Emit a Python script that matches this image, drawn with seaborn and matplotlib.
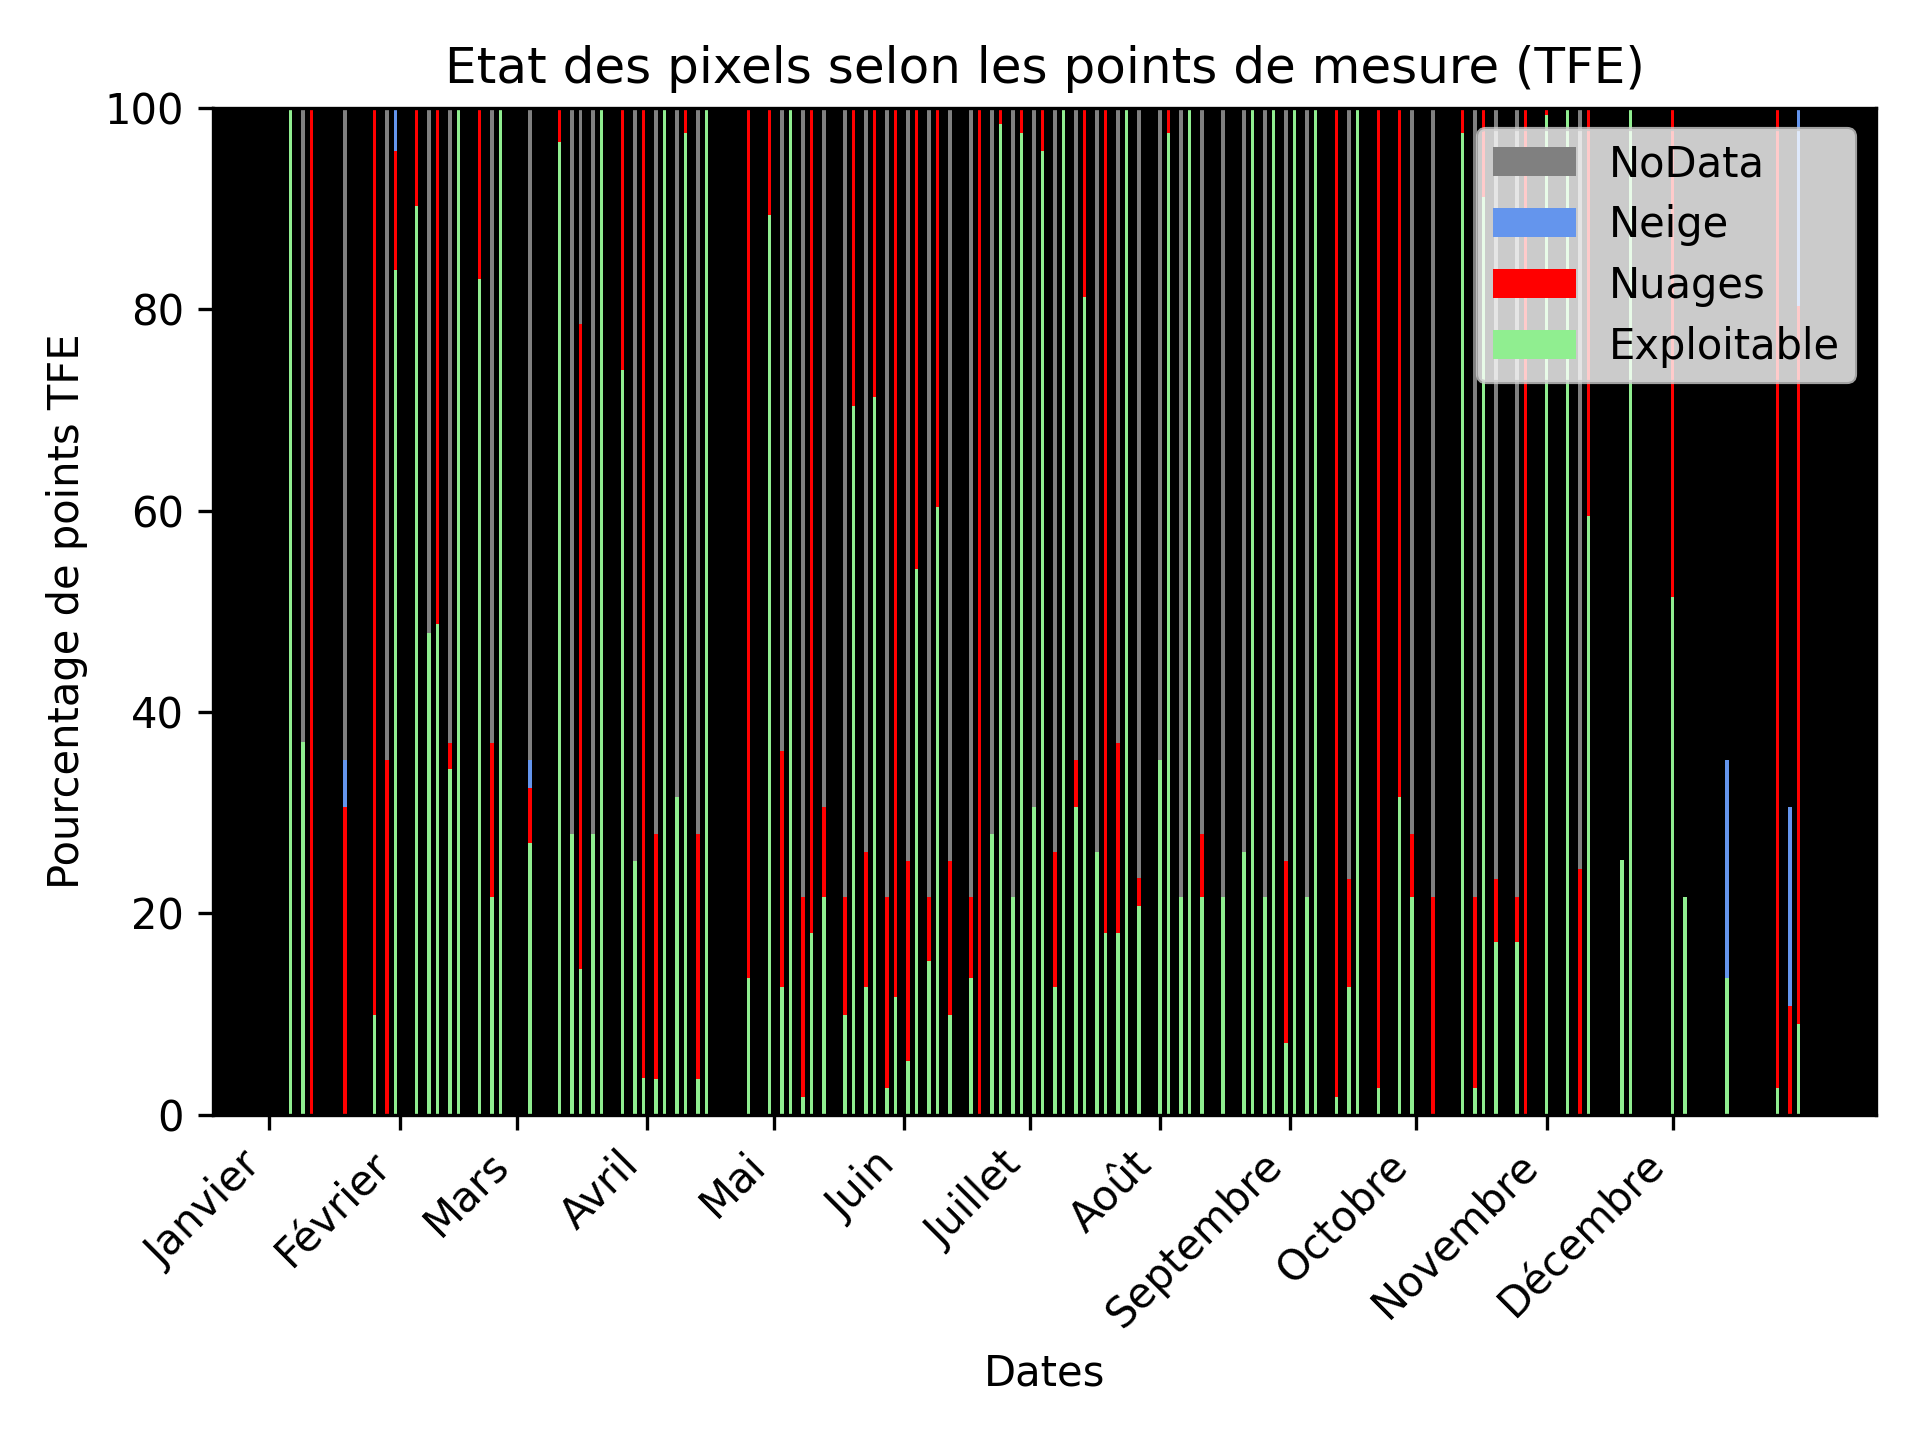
import matplotlib
matplotlib.use("Agg")
import matplotlib.pyplot as plt
from matplotlib.patches import Patch
import seaborn as sns
import pandas as pd

# Day of year (0 = 1er janvier) of each acquisition
days = [5, 8, 10, 18, 25, 28, 30, 35, 38, 40, 43, 45, 50, 53, 55, 62, 69, 72, 74, 77,
        79, 84, 87, 89, 92, 94, 97, 99, 102, 104, 114, 119, 122, 124, 127, 129, 132, 137, 139, 142,
        144, 147, 149, 152, 154, 157, 159, 162, 167, 169, 172, 174, 177, 179, 182, 184, 187, 189, 192, 194,
        197, 199, 202, 204, 207, 212, 214, 217, 219, 222, 227, 232, 234, 237, 239, 242, 244, 247, 249, 254,
        257, 259, 264, 269, 272, 277, 284, 287, 289, 292, 297, 299, 304, 309, 312, 314, 322, 324, 334, 337,
        347, 359, 362, 364]

exploitable = [100, 37.0, 0, 0, 9.9, 0, 83.9, 90.3, 47.8, 48.7, 34.3, 100, 83.0, 21.6, 100, 27.0, 96.6, 27.9, 14.5, 27.9,
               100, 74.0, 25.2, 3.6, 3.5, 100, 31.5, 97.5, 3.5, 100, 13.6, 89.4, 12.7, 100, 1.7, 18.0, 21.6, 9.9, 70.4, 12.7,
               71.3, 2.6, 11.7, 5.3, 54.2, 15.3, 60.4, 9.9, 13.6, 0, 27.9, 98.4, 21.6, 97.5, 30.6, 95.7, 12.7, 100, 30.6, 81.2,
               26.1, 18.0, 18.0, 100, 20.7, 35.2, 97.5, 21.6, 100, 21.6, 21.6, 26.1, 100, 21.6, 100, 7.1, 100, 21.6, 100, 1.7,
               12.7, 100, 2.6, 31.5, 21.6, 0, 97.5, 2.6, 91.2, 17.1, 17.1, 0, 99.3, 100, 0, 59.5, 25.3, 100, 51.4, 21.6,
               13.6, 2.6, 0, 9.0]

nuages = [0, 0, 100, 30.6, 90.1, 35.2, 11.8, 9.7, 0, 51.3, 2.6, 0, 17.0, 15.3, 0, 5.4, 3.4, 0, 64.0, 0,
          0, 26.0, 0, 96.4, 24.4, 0, 0, 2.5, 24.4, 0, 86.4, 10.6, 23.4, 0, 19.9, 82.0, 9.0, 11.7, 29.6, 13.4,
          28.7, 19.0, 88.3, 19.9, 45.8, 6.3, 39.6, 15.3, 8.0, 100, 0, 1.6, 0, 2.5, 0, 4.3, 13.4, 0, 4.6, 18.8,
          0, 82.0, 18.9, 0, 2.8, 0, 2.5, 0, 0, 6.3, 0, 0, 0, 0, 0, 18.1, 0, 0, 0, 98.3,
          10.7, 0, 97.4, 68.5, 6.3, 21.6, 2.5, 19.0, 8.8, 6.3, 4.5, 100, 0.7, 0, 24.4, 40.5, 0, 0, 48.6, 0,
          0, 97.4, 10.8, 71.3]

neige = [0, 0, 0, 4.6, 0, 0, 4.3, 0, 0, 0, 0, 0, 0, 0, 0, 2.8, 0, 0, 0, 0,
         0, 0, 0, 0, 0, 0, 0, 0, 0, 0, 0, 0, 0, 0, 0, 0, 0, 0, 0, 0,
         0, 0, 0, 0, 0, 0, 0, 0, 0, 0, 0, 0, 0, 0, 0, 0, 0, 0, 0, 0,
         0, 0, 0, 0, 0, 0, 0, 0, 0, 0, 0, 0, 0, 0, 0, 0, 0, 0, 0, 0,
         0, 0, 0, 0, 0, 0, 0, 0, 0, 0, 0, 0, 0, 0, 0, 0, 0, 0, 0, 0,
         21.6, 0, 19.8, 19.7]

nodata = [0, 63.0, 0, 64.8, 0, 64.8, 0, 0, 52.2, 0, 63.1, 0, 0, 63.1, 0, 64.8, 0, 72.1, 21.5, 72.1,
          0, 0, 74.8, 0, 72.1, 0, 68.5, 0, 72.1, 0, 0, 0, 63.9, 0, 78.4, 0, 69.4, 78.4, 0, 73.9,
          0, 78.4, 0, 74.8, 0, 78.4, 0, 74.8, 78.4, 0, 72.1, 0, 78.4, 0, 69.4, 0, 73.9, 0, 64.8, 0,
          73.9, 0, 63.1, 0, 76.5, 64.8, 0, 78.4, 0, 72.1, 78.4, 73.9, 0, 78.4, 0, 74.8, 0, 78.4, 0, 0,
          76.6, 0, 0, 0, 72.1, 78.4, 0, 78.4, 0, 76.6, 78.4, 0, 0, 0, 75.6, 0, 0, 0, 0, 0,
          0, 0, 0, 0]

months = ["Janvier", "Février", "Mars", "Avril", "Mai", "Juin", "Juillet", "Août",
          "Septembre", "Octobre", "Novembre", "Décembre"]
month_starts = [0, 31, 59, 90, 120, 151, 181, 212, 243, 273, 304, 334]

df = pd.DataFrame({"day": days, "Exploitable": exploitable, "Nuages": nuages,
                   "Neige": neige, "NoData": nodata})
df["c_expl"] = df["Exploitable"]
df["c_nuag"] = df["c_expl"] + df["Nuages"]
df["c_neig"] = df["c_nuag"] + df["Neige"]
df["c_nod"] = df["c_neig"] + df["NoData"]

layers = [("c_nod", "NoData", "gray"),
          ("c_neig", "Neige", "cornflowerblue"),
          ("c_nuag", "Nuages", "red"),
          ("c_expl", "Exploitable", "lightgreen")]

fig, ax = plt.subplots(figsize=(6.4, 4.8), dpi=300)
ax.set_facecolor("black")

for col, name, color in layers:
    sns.barplot(data=df, x="day", y=col, native_scale=True, width=0.4,
                color=color, saturation=1, errorbar=None, linewidth=0, ax=ax)

span = max(days) - min(days) + 0.8
ax.set_xlim(min(days) - 0.4 - 0.05 * span, max(days) + 0.4 + 0.05 * span)
ax.set_ylim(0, 100)
ax.set_yticks([0, 20, 40, 60, 80, 100])
ax.set_xticks(month_starts)
ax.set_xticklabels(months, rotation=45, ha="right")

ax.set_title("Etat des pixels selon les points de mesure (TFE)")
ax.set_xlabel("Dates")
ax.set_ylabel("Pourcentage de points TFE")

handles = [Patch(facecolor=c, label=n) for _, n, c in layers]
ax.legend(handles=handles, loc="upper right", facecolor="white",
          labelspacing=0.45, borderpad=0.35)

fig.subplots_adjust(left=0.111, right=0.977, top=0.925, bottom=0.226)
fig.savefig("out.png", dpi=300)
